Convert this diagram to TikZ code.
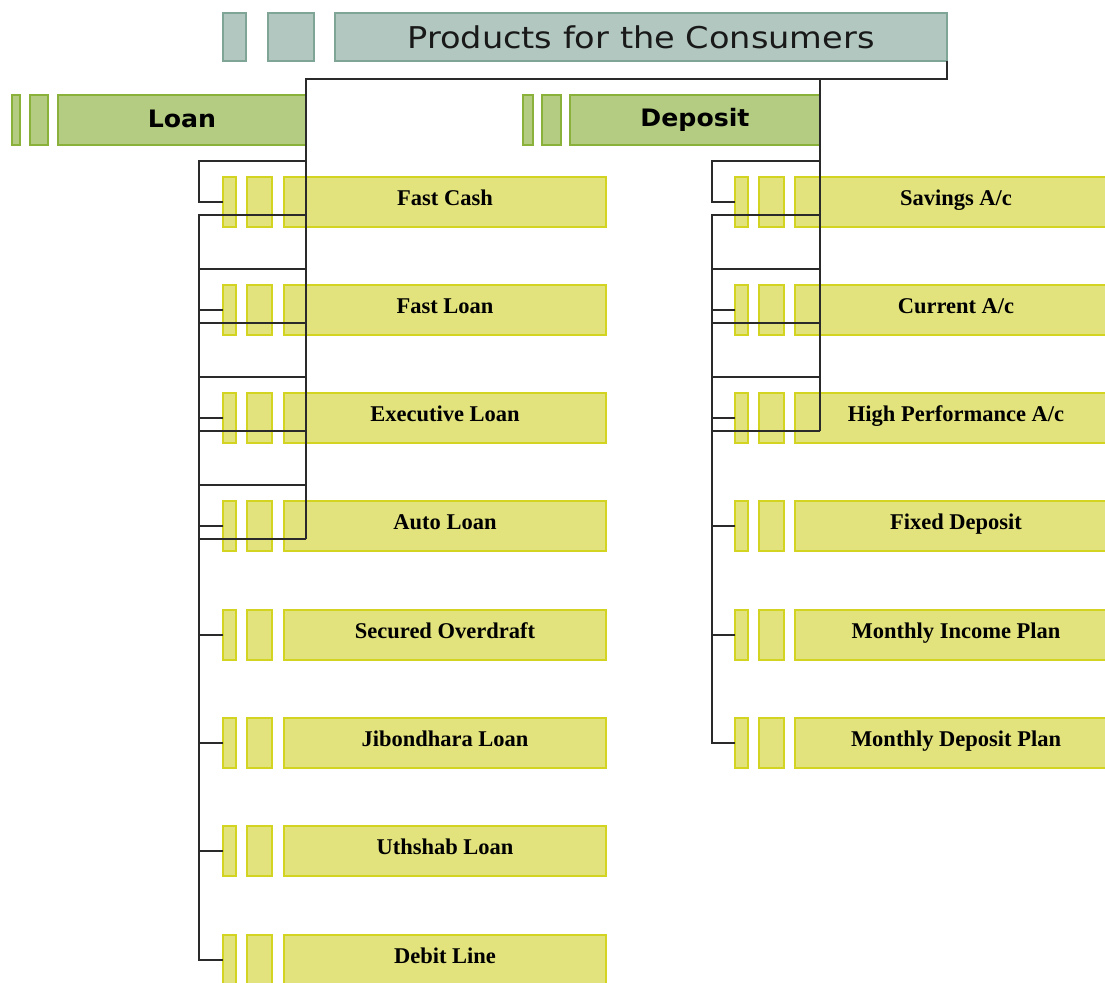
\documentclass[tikz,border=0pt]{standalone}
\usepackage{fontspec}
\setmainfont{Liberation Serif}
\newfontfamily\titlefont[FakeStretch=1.12]{DejaVu Sans}
\newfontfamily\headfont[FakeStretch=1.05]{DejaVu Sans Bold}
\definecolor{titlefill}{HTML}{B1C7BF}
\definecolor{titledraw}{HTML}{7FA596}
\definecolor{headfill}{HTML}{B3CC82}
\definecolor{headdraw}{HTML}{8AB23A}
\definecolor{childfill}{HTML}{E3E37D}
\definecolor{childdraw}{HTML}{D3D322}
\definecolor{linecol}{HTML}{2A2A2A}
\begin{document}
\begin{tikzpicture}[x=1pt,y=-1pt,
  cell/.style={anchor=north west, inner sep=0pt, outer sep=0pt, line width=1.3pt},
  tbox/.style={cell, fill=titlefill, draw=titledraw, minimum height=48pt},
  hbox/.style={cell, fill=headfill, draw=headdraw, minimum height=50pt},
  cbox/.style={cell, fill=childfill, draw=childdraw, minimum height=50pt},
  conn/.style={draw=linecol, line width=1.5pt},
  ctext/.style={font=\bfseries\fontsize{22.5}{26}\selectfont, text=black}]
\useasboundingbox (0,0) rectangle (1105,982);
\clip (0,0) rectangle (1105,982);

% title
\node[tbox, minimum width=23pt] (ta) at (223,13) {};
\node[tbox, minimum width=46pt] (tb) at (268,13) {};
\node[tbox, minimum width=612pt, font=\titlefont\fontsize{30}{34}\selectfont, text=black!90] (title) at (335,13) {Products for the Consumers};

% heads
\node[hbox, minimum width=8pt] (la) at (12,95) {};
\node[hbox, minimum width=18pt] (lb) at (30,95) {};
\node[hbox, minimum width=248pt, font=\headfont\fontsize{24}{28}\selectfont] (loan) at (58,95) {\raisebox{2pt}{Loan}};
\node[hbox, minimum width=10pt] (da) at (523,95) {};
\node[hbox, minimum width=19pt] (db) at (542,95) {};
\node[hbox, minimum width=250pt, font=\headfont\fontsize{24}{28}\selectfont] (deposit) at (570,95) {Deposit};

% loan children
\foreach \lab [count=\i from 0] in {Fast Cash, Fast Loan, Executive Loan, Auto Loan, Secured Overdraft, Jibondhara Loan, Uthshab Loan, Debit Line} {
  \pgfmathtruncatemacro\t{177+108.3*\i}
  \node[cbox, minimum width=13pt] (La\i) at (223,\t) {};
  \node[cbox, minimum width=25pt] (Lb\i) at (247,\t) {};
  \node[cbox, minimum width=322pt, ctext] (Lm\i) at (284,\t) {\raisebox{8pt}{\lab}};
}
% deposit children
\foreach \lab [count=\i from 0] in {Savings A/c, Current A/c, High Performance A/c, Fixed Deposit, Monthly Income Plan, Monthly Deposit Plan} {
  \pgfmathtruncatemacro\t{177+108.3*\i}
  \node[cbox, minimum width=13pt] (Da\i) at (735,\t) {};
  \node[cbox, minimum width=25pt] (Db\i) at (759,\t) {};
  \node[cbox, minimum width=322pt, ctext] (Dm\i) at (795,\t) {\raisebox{8pt}{\lab}};
}

% title connector
\draw[conn] (title.south east) |- (loan.north east |- 0,79) -- (loan.east |- 0,539);
\draw[conn] (deposit.north east |- 0,79) -- (deposit.east |- 0,431);

% loan connectors
\draw[conn] (loan.east |- 0,161) -- (199,161) |- (La0.west);
\draw[conn] (loan.east |- 0,215) -- (199,215) |- (La7.west);
\foreach \i in {1,2,3} {
  \pgfmathtruncatemacro\t{177+108.3*\i}
  \draw[conn] (loan.east |- 0,{\t-16}) -- (199,{\t-16});
  \draw[conn] (loan.east |- 0,{\t+38}) -- (199,{\t+38});
}
\foreach \i in {1,...,6} {
  \draw[conn] (La\i.west) -- (199,0 |- La\i.west);
}
% deposit connectors
\draw[conn] (deposit.east |- 0,161) -- (712,161) |- (Da0.west);
\draw[conn] (deposit.east |- 0,215) -- (712,215) |- (Da5.west);
\foreach \i in {1,2} {
  \pgfmathtruncatemacro\t{177+108.3*\i}
  \draw[conn] (deposit.east |- 0,{\t-16}) -- (712,{\t-16});
  \draw[conn] (deposit.east |- 0,{\t+38}) -- (712,{\t+38});
}
\foreach \i in {1,...,4} {
  \draw[conn] (Da\i.west) -- (712,0 |- Da\i.west);
}
\end{tikzpicture}
\end{document}
